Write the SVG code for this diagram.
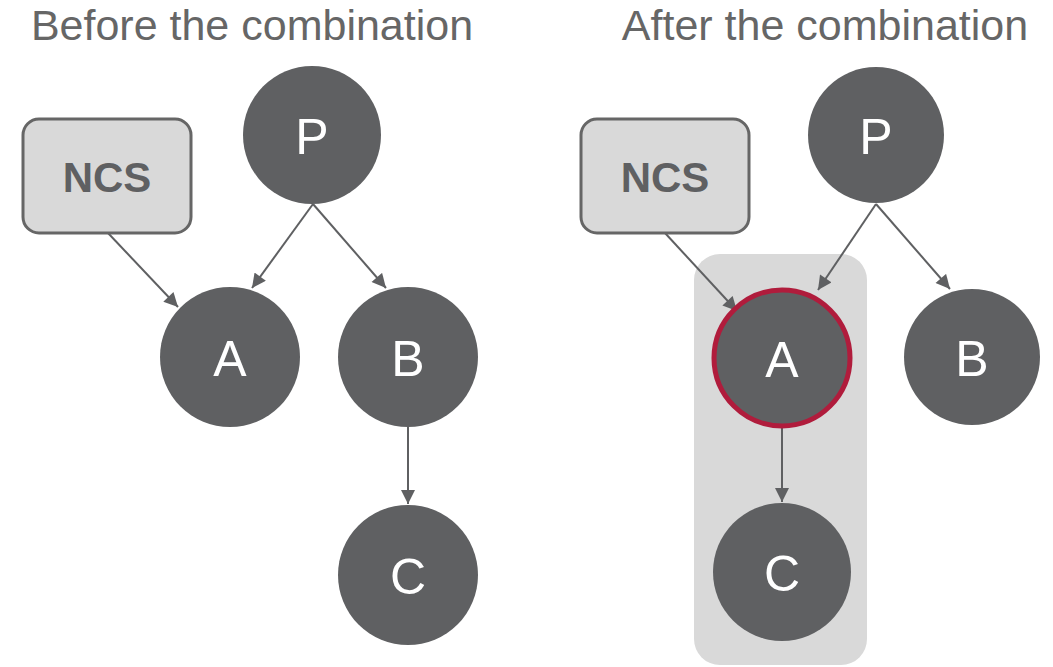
<svg xmlns="http://www.w3.org/2000/svg" width="1053" height="667" viewBox="0 0 1053 667">
<style>
.title{font-family:"Liberation Sans",Arial,sans-serif;font-size:43px;fill:#666666;text-anchor:middle}
.node circle{fill:#5f6062}
.lbl{font-family:"Liberation Sans",Arial,sans-serif;font-size:50px;fill:#ffffff;text-anchor:middle;dominant-baseline:central}
.box rect{fill:#d9d9d9;stroke:#666666;stroke-width:3}
.boxlbl{font-family:"Liberation Sans",Arial,sans-serif;font-size:42px;font-weight:bold;fill:#5f6062;text-anchor:middle;dominant-baseline:central}
.edge{stroke:#5f6062;stroke-width:2;fill:none;marker-end:url(#ah)}
</style>
<defs>
<marker id="ah" viewBox="0 0 10 10" refX="10" refY="5" markerWidth="15" markerHeight="14" markerUnits="userSpaceOnUse" orient="auto">
<path d="M0,0 L10,5 L0,10 z" fill="#5f6062"/>
</marker>
</defs>
<rect fill="#ffffff" width="1053" height="667"/>
<text class="title" x="252" y="40">Before the combination</text>
<text class="title" x="825" y="40">After the combination</text>
<g id="group-right"><rect x="694" y="254" width="173" height="411" rx="26" fill="#d9d9d9"/></g>
<g id="connectors">
<line class="edge" x1="108" y1="233" x2="178" y2="307"/>
<line class="edge" x1="313" y1="204" x2="252" y2="288"/>
<line class="edge" x1="313" y1="204" x2="386" y2="288"/>
<line class="edge" x1="408" y1="427" x2="408" y2="504"/>
<line class="edge" x1="665" y1="233" x2="737" y2="311"/>
<line class="edge" x1="876" y1="204" x2="818" y2="290"/>
<line class="edge" x1="876" y1="204" x2="950" y2="289"/>
<line class="edge" x1="782" y1="428" x2="782" y2="502"/>
</g>
<g id="ncs-left" class="box"><rect x="23" y="119" width="168" height="114" rx="16"/><text class="boxlbl" x="107" y="177">NCS</text></g>
<g id="p-left" class="node"><circle cx="312" cy="135" r="69"/><text class="lbl" x="312" y="137">P</text></g>
<g id="a-left" class="node"><circle cx="230" cy="357" r="70"/><text class="lbl" x="230" y="359">A</text></g>
<g id="b-left" class="node"><circle cx="408" cy="357" r="70"/><text class="lbl" x="408" y="359">B</text></g>
<g id="c-left" class="node"><circle cx="408" cy="575" r="70"/><text class="lbl" x="408" y="577">C</text></g>
<g id="ncs-right" class="box"><rect x="581" y="119" width="168" height="114" rx="16"/><text class="boxlbl" x="665" y="177">NCS</text></g>
<g id="p-right" class="node"><circle cx="876" cy="135" r="68"/><text class="lbl" x="876" y="137">P</text></g>
<g id="a-right" class="node"><circle cx="782" cy="358" r="68" stroke="#b01c3c" stroke-width="5"/><text class="lbl" x="782" y="360">A</text></g>
<g id="b-right" class="node"><circle cx="972" cy="357" r="68"/><text class="lbl" x="972" y="359">B</text></g>
<g id="c-right" class="node"><circle cx="782" cy="572" r="69"/><text class="lbl" x="782" y="574">C</text></g>
</svg>
